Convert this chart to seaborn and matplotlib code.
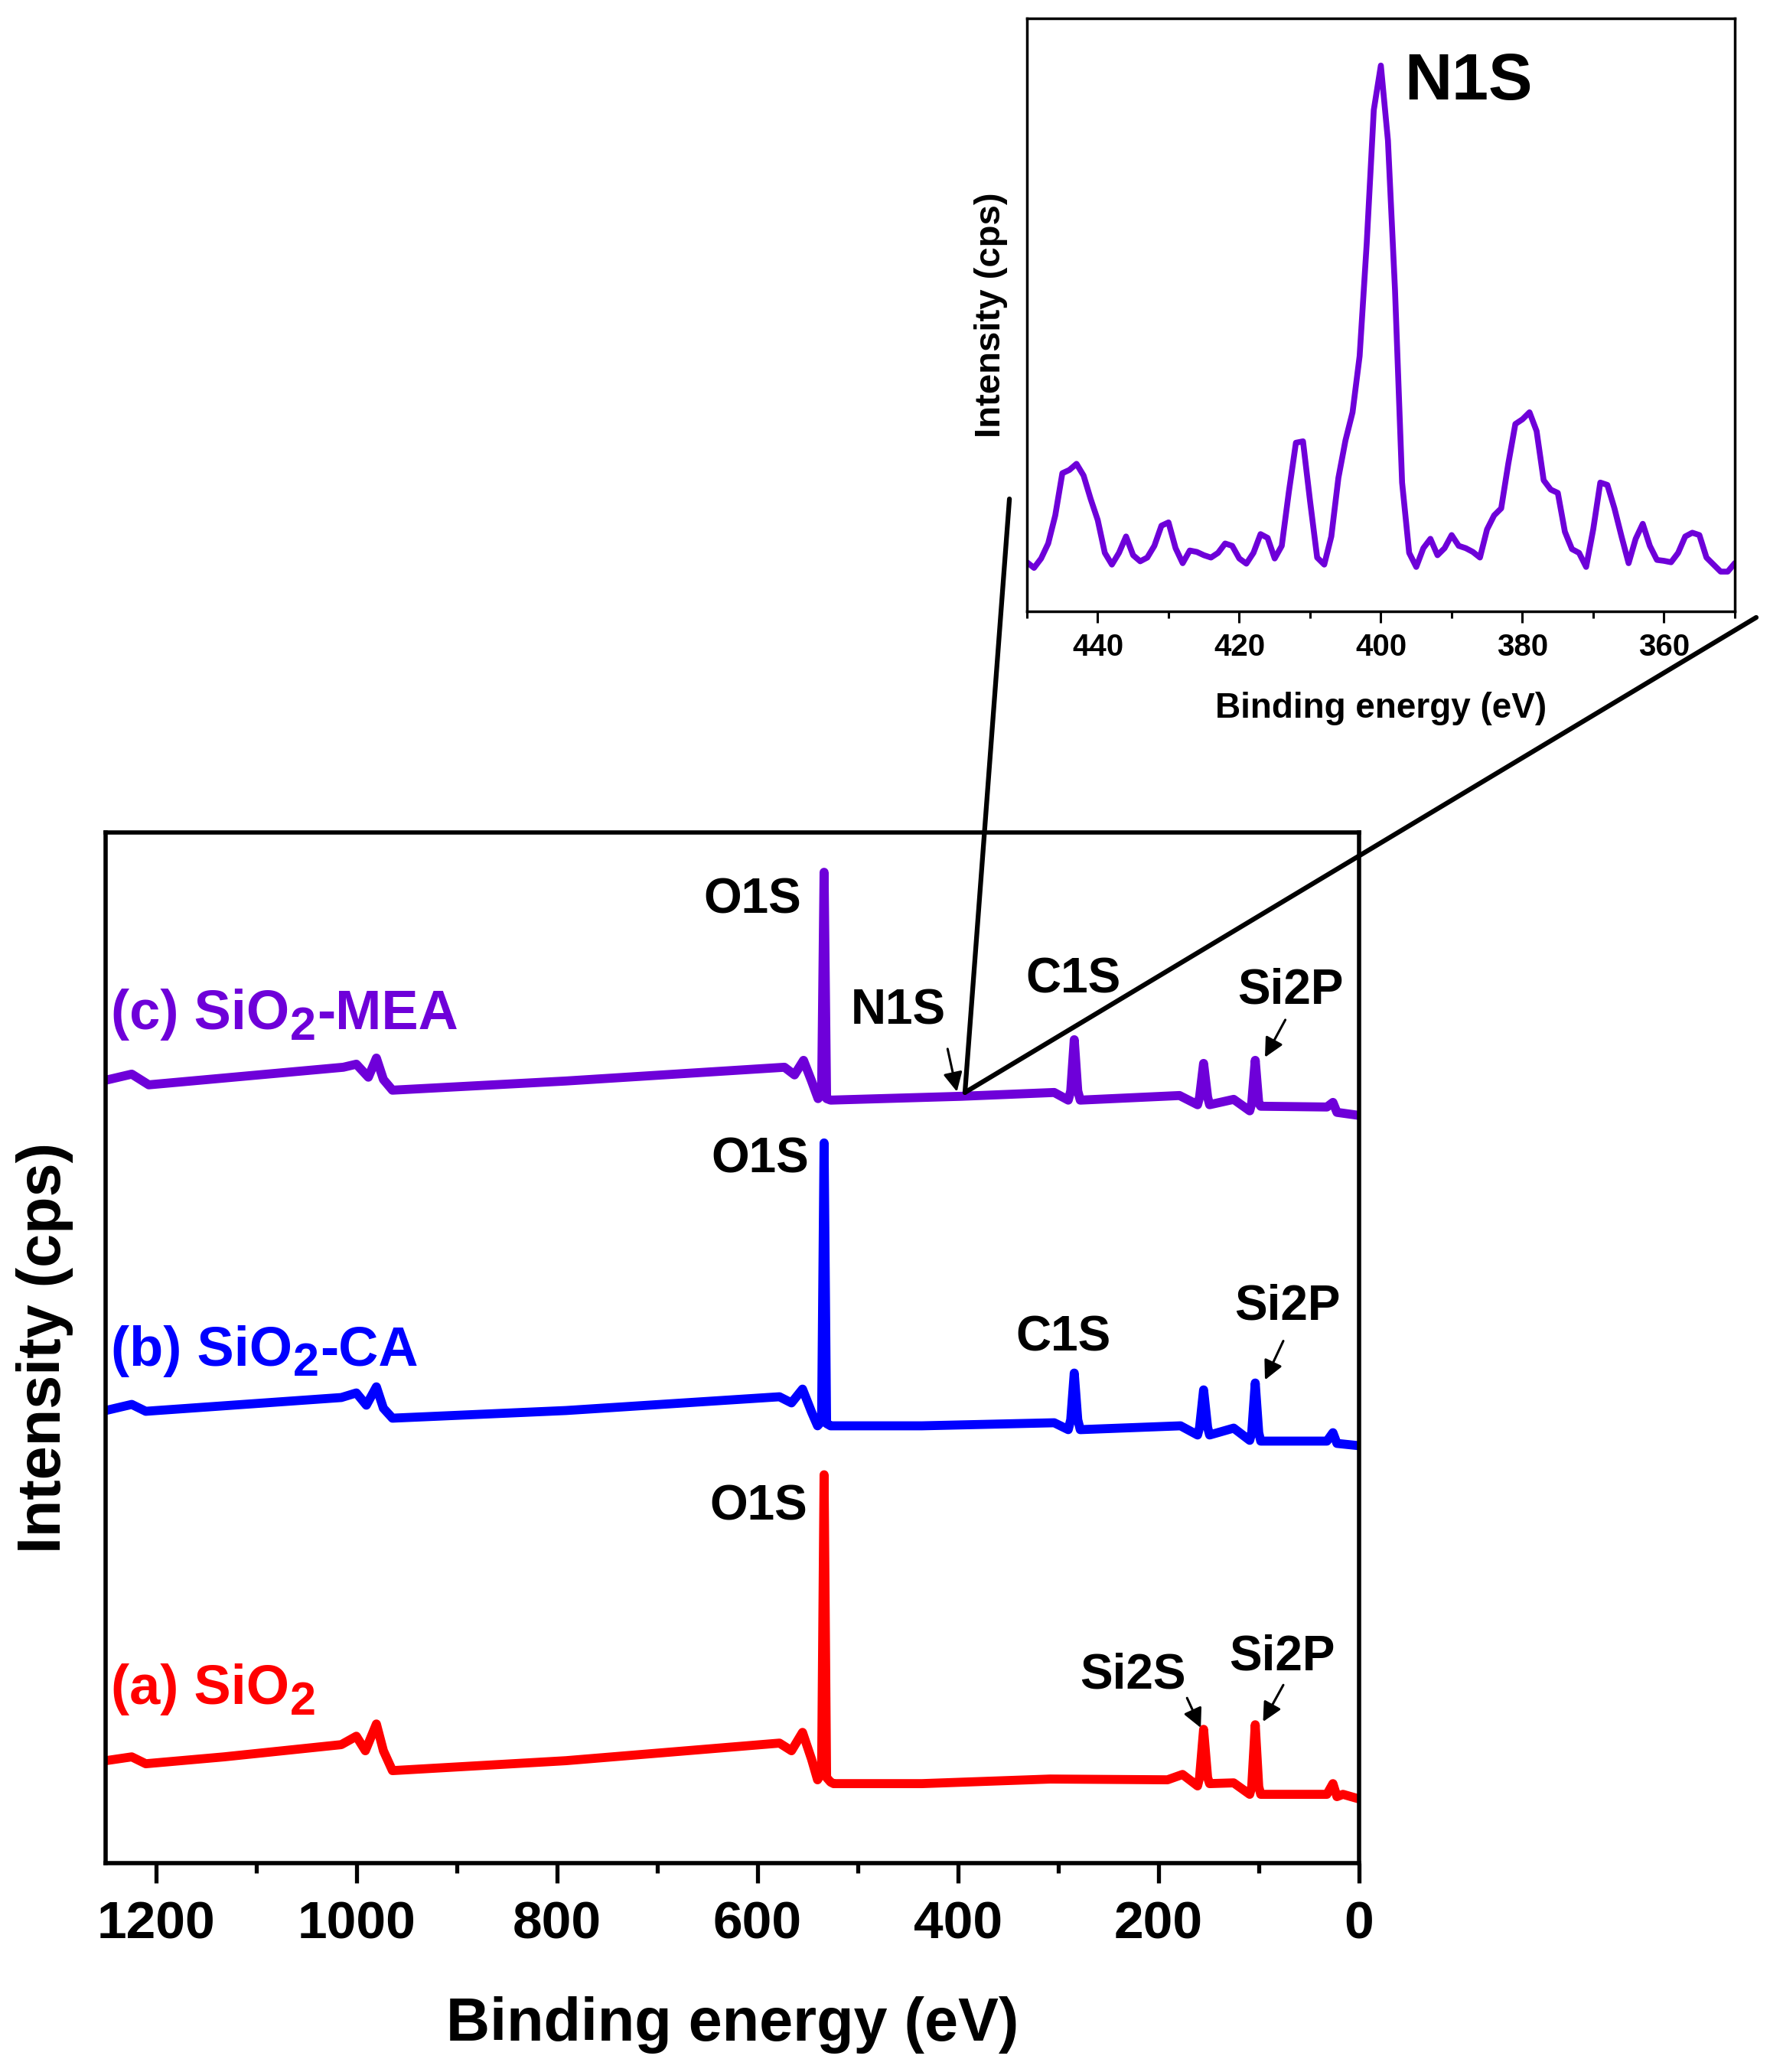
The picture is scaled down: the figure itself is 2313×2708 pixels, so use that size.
import matplotlib
matplotlib.use("Agg")
import matplotlib.pyplot as plt
from matplotlib.patches import ConnectionPatch
from matplotlib.ticker import MultipleLocator
import numpy as np
import seaborn as sns

# survey spectra (binding energy in eV, offset intensity in arbitrary units)
sio2_energy = [1250, 1224, 1210, 1132, 1015, 1000, 991, 980, 973, 964, 791, 578, 566, 555, 546, 540,
               536, 533.5, 531, 527, 524, 436, 308, 191, 176, 161, 159, 155, 151, 149, 125,
               109, 107, 103.5, 100, 98, 32, 26, 22, 16, 0]
sio2_int = [134, 139, 130, 139, 155, 166, 147, 182, 147, 121, 134, 157, 147, 171, 136, 109,
            118, 508, 112, 106, 104, 104, 110, 109, 116, 101, 112, 175, 112, 104, 105,
            90, 100, 181, 100, 90, 90, 104, 87, 90, 84]

ca_energy = [1250, 1224, 1210, 1015, 1000, 990, 980, 973, 964, 791, 578, 566, 555, 546, 540,
             536, 533.5, 531, 527, 436, 304, 290, 287.5, 284, 280.5, 278, 178, 161,
             159, 155, 151, 149, 125, 109, 107, 103.5, 100, 98, 32, 26, 22, 0]
ca_int = [592, 600, 591, 609, 615, 599, 623, 595, 582, 592, 610, 602, 620, 590, 572,
          578, 942, 575, 572, 572, 576, 567, 580, 641, 580, 567, 572, 560,
          570, 619, 570, 560, 569, 553, 563, 628, 563, 552, 552, 563, 549, 546]

mea_energy = [1250, 1224, 1207, 1013, 1000, 988, 980, 973, 964, 791, 573, 563, 554, 546, 539.5,
              536, 533.5, 531, 527, 397, 304, 290, 287.5, 284, 280.5, 278, 179, 161,
              159, 155, 151, 149, 125, 109, 107, 103.5, 100, 98, 32, 26, 22, 0]
mea_int = [1024, 1032, 1018, 1041, 1045, 1028, 1053, 1025, 1011, 1023, 1041, 1031, 1050, 1023, 1000,
           1005, 1296, 1000, 998, 1003, 1008, 998, 1010, 1077, 1010, 998, 1004, 992,
           1002, 1046, 1002, 992, 999, 984, 994, 1050, 994, 990, 989, 995, 982, 978]

# N1s high resolution spectrum (inset)
n1s_energy = np.arange(450, 349, -1)
n1s_int = [105, 93, 113, 145, 205, 295, 302, 315, 290, 240, 195, 125, 100, 125, 160, 120, 107, 115,
           140, 183, 190, 135, 103, 130, 127, 120, 115, 125, 145, 140, 113, 102, 125, 165, 157, 113,
           140, 255, 360, 363, 235, 115, 100, 160, 285, 365, 425, 545, 785, 1070, 1165, 1005, 685,
           275, 125, 95, 135, 155, 120, 135, 163, 140, 135, 127, 115, 175, 205, 220, 315, 400, 410,
           425, 385, 280, 260, 253, 170, 133, 125, 95, 175, 275, 270, 220, 160, 103, 155, 187, 140,
           110, 108, 105, 125, 160, 168, 163, 115, 100, 85, 85, 103]

# series labels: prefix, subscript, suffix
label_pre = ["(a) SiO", "(b) SiO", "(c) SiO"]
label_suf = ["", "-CA", "-MEA"]
series_colors = ["#ff0000", "#0000ff", "#6e00d9"]
label_y = [208, 651, 1091]

sns.set_style("ticks")
plt.rcParams["font.family"] = ["Liberation Sans", "DejaVu Sans"]
plt.rcParams["font.weight"] = "bold"
plt.rcParams["axes.labelweight"] = "bold"
plt.rcParams["text.color"] = "black"
plt.rcParams["axes.labelcolor"] = "black"
plt.rcParams["xtick.color"] = "black"
plt.rcParams["ytick.color"] = "black"

fig = plt.figure(figsize=(23.13, 27.08), dpi=100)
ax = fig.add_axes([0.0597, 0.1008, 0.7081, 0.4974])

for e, i, c in zip([sio2_energy, ca_energy, mea_energy], [sio2_int, ca_int, mea_int], series_colors):
    sns.lineplot(x=e, y=i, ax=ax, color=c, lw=8.5, estimator=None)

ax.set_xlim(1250, 0)
ax.set_ylim(0, 1348)
ax.set_yticks([])
ax.xaxis.set_major_locator(MultipleLocator(200))
ax.xaxis.set_minor_locator(MultipleLocator(100))
ax.tick_params(axis="x", which="major", direction="out", length=19, width=3.8, pad=16, labelsize=50)
ax.tick_params(axis="x", which="minor", direction="out", length=9, width=3.8)
for s in ax.spines.values():
    s.set_visible(True)
    s.set_linewidth(4)
    s.set_color("black")
ax.set_xlabel("Binding energy (eV)", fontsize=57, labelpad=44)
ax.set_ylabel("Intensity (cps)", fontsize=57, labelpad=30)

for pre, suf, y, c in zip(label_pre, label_suf, label_y, series_colors):
    t1 = ax.text(1245, y, pre, color=c, fontsize=52, ha="left", va="baseline")
    t2 = ax.annotate("2", xy=(1, 0), xycoords=t1, xytext=(1, -8.6), textcoords="offset points",
                     color=c, fontsize=44, ha="left", va="bottom")
    if suf:
        ax.annotate(suf, xy=(1, 0), xycoords=(t2, t1), xytext=(1, 0), textcoords="offset points",
                    color=c, fontsize=52, ha="left", va="bottom")

# peak labels
peaks = [("O1S", 604.6, 1260), ("N1S", 459.7, 1114), ("C1S", 284.7, 1155), ("Si2P", 68.6, 1141),
         ("O1S", 597, 920), ("C1S", 295, 687), ("Si2P", 71.3, 728),
         ("O1S", 599, 466), ("Si2S", 225.7, 246), ("Si2P", 76.5, 270)]
for txt, x, y in peaks:
    ax.text(x, y, txt, fontsize=46, ha="center", va="center", color="black")

arrows = [((410.3, 1065), (401, 1009)), ((73.5, 1103), (93.8, 1054)), ((75.5, 683), (93.8, 632)),
          ((171.5, 216), (157.8, 177)), ((75.5, 233), (95.7, 185))]
for start, end in arrows:
    ax.annotate("", xy=end, xytext=start,
                arrowprops=dict(arrowstyle="-|>", color="black", lw=2.2, mutation_scale=38,
                                shrinkA=0, shrinkB=0))

# inset with N1s region
ax_in = fig.add_axes([0.5802, 0.7049, 0.3999, 0.2861])
sns.lineplot(x=n1s_energy, y=n1s_int, ax=ax_in, color="#6e00d9", lw=5.5, estimator=None)
ax_in.set_xlim(450, 350)
ax_in.set_ylim(0, 1265)
ax_in.set_yticks([])
ax_in.xaxis.set_major_locator(MultipleLocator(20))
ax_in.xaxis.set_minor_locator(MultipleLocator(10))
ax_in.tick_params(axis="x", which="major", direction="out", length=11, width=2.2, pad=9, labelsize=29)
ax_in.tick_params(axis="x", which="minor", direction="out", length=6.5, width=2.2)
for s in ax_in.spines.values():
    s.set_visible(True)
    s.set_linewidth(2.5)
    s.set_color("black")
ax_in.set_xlabel("Binding energy (eV)", fontsize=33, labelpad=28)
ax_in.set_ylabel("Intensity (cps)", fontsize=34, labelpad=18)
ax_in.text(396.7, 1128, "N1S", fontsize=62, ha="left", va="center")

# zoom connector lines
for end in [(0.5703, 0.7592), (0.9922, 0.7020)]:
    con = ConnectionPatch(xyA=(393, 1008), coordsA=ax.transData, xyB=end, coordsB=fig.transFigure,
                          color="black", lw=4.5)
    fig.add_artist(con)

plt.savefig("out.png", dpi=100)
